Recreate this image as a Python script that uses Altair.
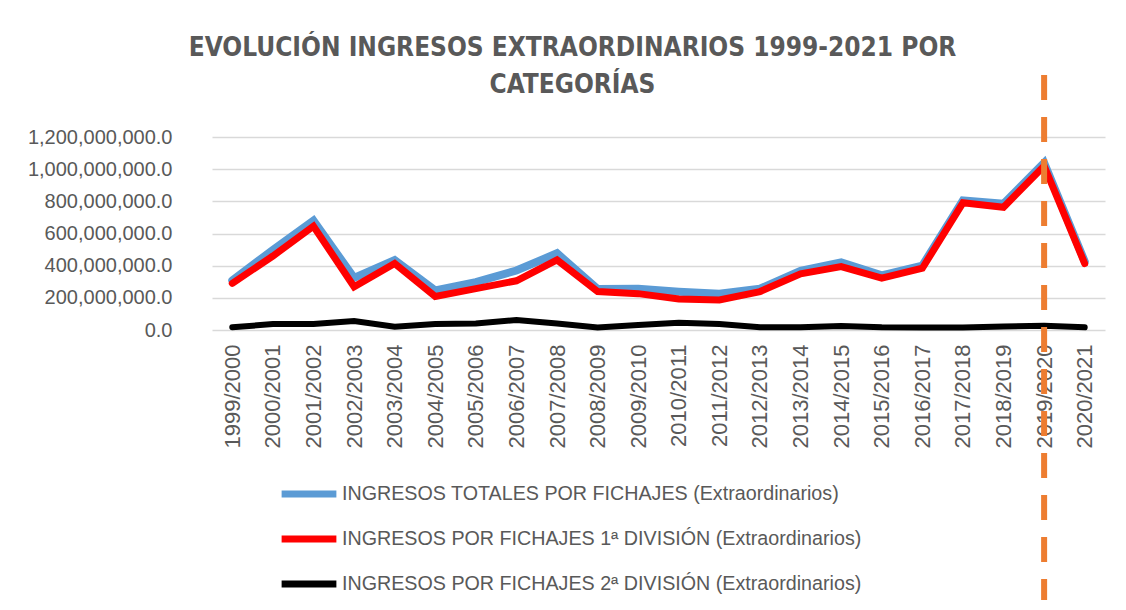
import altair as alt
import pandas as pd

seasons = ["1999/2000", "2000/2001", "2001/2002", "2002/2003", "2003/2004", "2004/2005",
           "2005/2006", "2006/2007", "2007/2008", "2008/2009", "2009/2010", "2010/2011",
           "2011/2012", "2012/2013", "2013/2014", "2014/2015", "2015/2016", "2016/2017",
           "2017/2018", "2018/2019", "2019/2020", "2020/2021"]
# values in millions
total = [308, 498, 680, 324, 435, 246, 298, 370, 477, 255, 256, 238, 225, 257, 368, 420, 340, 400, 806, 785, 1040, 426]
div1 = [290, 460, 645, 269, 414, 208, 257, 306, 436, 239, 226, 193, 187, 239, 349, 394, 322, 384, 791, 763, 1020, 413]
div2 = [17, 37, 37, 56, 21, 37, 40, 62, 41, 15, 31, 45, 37, 17, 17, 25, 17, 15, 15, 21, 27, 17]

names = ["INGRESOS TOTALES POR FICHAJES (Extraordinarios)",
         "INGRESOS POR FICHAJES 1ª DIVISIÓN (Extraordinarios)",
         "INGRESOS POR FICHAJES 2ª DIVISIÓN (Extraordinarios)"]
colors = ["#5B9BD5", "#FF0000", "#000000"]
widths = [8, 7, 6]
marker_season = "2019/2020"

rows = []
for name, vals in zip(names, [total, div1, div2]):
    for s, v in zip(seasons, vals):
        rows.append({"season": s, "serie": name, "value": v * 1_000_000})
df = pd.DataFrame(rows)

FONT = "Liberation Sans"
GREY = "#595959"

x_enc = alt.X("season:N", sort=seasons, scale=alt.Scale(type="point", padding=0.5),
              axis=alt.Axis(title=None, labelAngle=-90, labelFontSize=22, labelFont=FONT,
                            labelColor=GREY, ticks=False, domain=False, grid=False,
                            labelPadding=14, labelBaseline="middle", labelAlign="right"))
y_enc = alt.Y("value:Q", scale=alt.Scale(domain=[0, 1_200_000_000], nice=False),
              axis=alt.Axis(title=None, format=",.1f", values=[0, 2e8, 4e8, 6e8, 8e8, 1e9, 1.2e9],
                            labelFontSize=20, labelFont=FONT, labelColor=GREY, ticks=False,
                            domain=False, gridColor="#D9D9D9", gridWidth=1.5, labelPadding=40))
color_enc = alt.Color("serie:N", scale=alt.Scale(domain=names, range=colors),
                      legend=alt.Legend(title=None, orient="none", legendX=66, legendY=326,
                                        direction="vertical", symbolType="stroke",
                                        symbolSize=3000, symbolStrokeWidth=7,
                                        labelFontSize=19.7, labelFont=FONT, labelColor=GREY,
                                        rowPadding=0, labelOffset=2, labelLimit=700))

layers = []
for name, w in zip(names, widths):
    layers.append(
        alt.Chart(df).transform_filter(alt.datum.serie == name)
        .mark_line(strokeWidth=w, strokeCap="round", strokeJoin="miter")
        .encode(x=x_enc, y=y_enc, color=color_enc)
    )

rule = alt.Chart(pd.DataFrame({"season": [marker_season]})).mark_rule(
    color="#ED7D31", strokeWidth=6, strokeDash=[25, 17]
).encode(x=alt.X("season:N", sort=seasons), y=alt.value(-62), y2=alt.value(473))

chart = alt.layer(*layers, rule).properties(
    width=893, height=193,
    autosize=alt.AutoSizeParams(type="none"),
    padding={"left": 204, "top": 129, "right": 10, "bottom": 270},
    background="white",
    title=alt.TitleParams(
        text=["EVOLUCIÓN INGRESOS EXTRAORDINARIOS 1999-2021 POR", "CATEGORÍAS"],
        font="DejaVu Sans Condensed, Roboto Condensed, Liberation Sans Narrow, sans-serif",
        fontSize=26, fontWeight="bold", color=GREY,
        anchor="middle", frame="group", dx=-86, offset=-26, lineHeight=37,
    ),
).configure_view(stroke=None)

chart.save("out.html", embed_options={"renderer": "svg", "actions": False})
